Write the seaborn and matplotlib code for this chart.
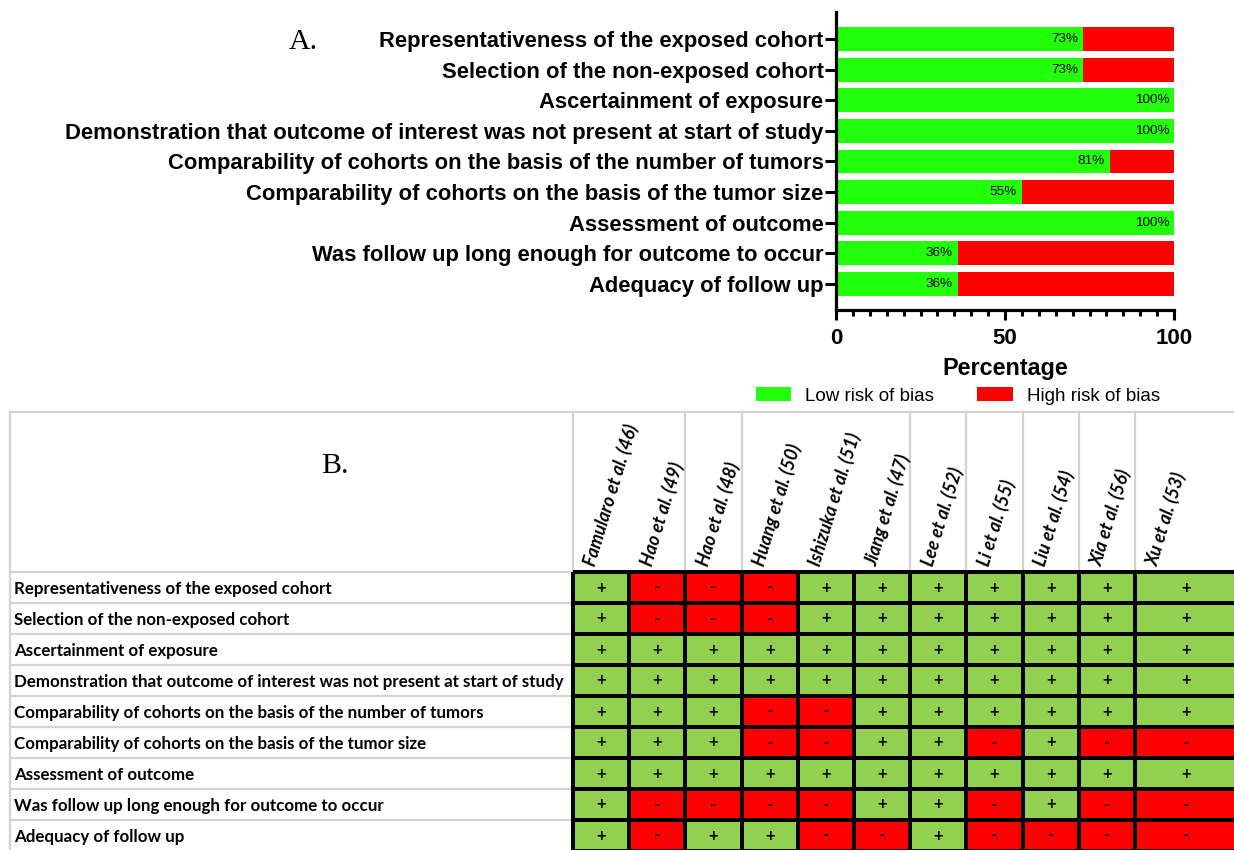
import numpy as np
import pandas as pd
import matplotlib
matplotlib.use("Agg")
import matplotlib.pyplot as plt
import matplotlib.transforms as mtransforms
from matplotlib.colors import ListedColormap
from matplotlib.ticker import MultipleLocator
import seaborn as sns

# ---------------------------------------------------------------- data
domains = [
    "Representativeness of the exposed cohort",
    "Selection of the non-exposed cohort",
    "Ascertainment of exposure",
    "Demonstration that outcome of interest was not present at start of study",
    "Comparability of cohorts on the basis of the number of tumors",
    "Comparability of cohorts on the basis of the tumor size",
    "Assessment of outcome",
    "Was follow up long enough for outcome to occur",
    "Adequacy of follow up",
]
low_risk_pct = [73, 73, 100, 100, 81, 55, 100, 36, 36]
high_risk_pct = [27, 27, 0, 0, 19, 45, 0, 64, 64]

studies = [
    "Famularo et al. (46)",
    "Hao et al. (49)",
    "Hao et al. (48)",
    "Huang et al. (50)",
    "Ishizuka et al. (51)",
    "Jiang et al. (47)",
    "Lee et al. (52)",
    "Li et al. (55)",
    "Liu et al. (54)",
    "Xia et al. (56)",
    "Xu et al. (53)",
]
# one string per domain, one character per study ("+" low risk, "-" high risk)
ratings = [
    "+---+++++++",
    "+---+++++++",
    "+++++++++++",
    "+++++++++++",
    "+++--++++++",
    "+++--++-+--",
    "+++++++++++",
    "+----++-+--",
    "+-++--+----",
]

GREEN_BAR = "#22FF0A"
RED = "#FF0000"
GREEN_CELL = "#92D050"
GRID_GRAY = "#D3D3D3"

# ---------------------------------------------------------------- style
sns.set_style("ticks")
plt.rcParams["font.family"] = ["Liberation Sans", "DejaVu Sans"]
for key in ("text.color", "axes.labelcolor", "xtick.color", "ytick.color",
            "axes.edgecolor"):
    plt.rcParams[key] = "black"

W, H = 1234, 850
fig = plt.figure(figsize=(W / 100, H / 100), dpi=100)


def fx(px):
    return px / W


def fy(py):
    return 1 - py / H


# ---------------------------------------------------------------- panel A
ax1 = fig.add_axes([fx(836), fy(310), fx(1174) - fx(836), (310 - 12) / H])
bars = pd.DataFrame({
    "domain": domains,
    "low": low_risk_pct,
    "total": [lo + hi for lo, hi in zip(low_risk_pct, high_risk_pct)],
})
sns.barplot(data=bars, x="total", y="domain", orient="h", color=RED,
            saturation=1, width=0.78, linewidth=0, ax=ax1,
            label="High risk of bias")
sns.barplot(data=bars, x="low", y="domain", orient="h", color=GREEN_BAR,
            saturation=1, width=0.78, linewidth=0, ax=ax1,
            label="Low risk of bias")

for i, v in enumerate(low_risk_pct):
    ax1.annotate(f"{v}%", xy=(v, i), xytext=(-3.5, 0),
                 textcoords="offset points", ha="right", va="center",
                 fontsize=9.7, color="black")

ax1.set_xlim(0, 100)
ax1.set_ylim(8.85, -0.88)
ax1.set_xticks([0, 50, 100])
ax1.xaxis.set_minor_locator(MultipleLocator(5))
ax1.tick_params(axis="x", which="major", length=7, width=2.2, pad=6,
                labelsize=16)
ax1.tick_params(axis="x", which="minor", length=4.5, width=2.2)
ax1.tick_params(axis="y", length=8, width=2.2, pad=1, labelsize=15.8)
for lab in ax1.get_xticklabels() + ax1.get_yticklabels():
    lab.set_fontweight("bold")
ax1.set_ylabel("")
ax1.set_xlabel("Percentage", fontsize=16.8, fontweight="bold", labelpad=6)
sns.despine(ax=ax1)
for side in ("left", "bottom"):
    ax1.spines[side].set_linewidth(2.3)

handles, labels = ax1.get_legend_handles_labels()
if ax1.get_legend() is not None:
    ax1.get_legend().remove()
order = [labels.index("Low risk of bias"), labels.index("High risk of bias")]
fig.legend([handles[k] for k in order], [labels[k] for k in order],
           loc="center", bbox_to_anchor=(fx(958), fy(396)), ncol=2,
           frameon=False, fontsize=13.5, handlelength=1.9,
           handleheight=0.75, handletextpad=0.75, columnspacing=2.3)

fig.text(fx(303), fy(42), "A.", family="Liberation Serif", fontsize=21.5,
         ha="center", va="center")

# ---------------------------------------------------------------- panel B
score = np.array([[1 if c == "+" else 0 for c in row] for row in ratings])
signs = np.array([list(row) for row in ratings])
cell_cmap = ListedColormap([RED, GREEN_CELL])
annot_style = {"fontsize": 12, "fontweight": "bold", "color": "black",
               "family": "Lato"}

table_top, table_bottom = 572, 851
col_px = 56.2
n_cols = len(studies)
split_px = 573 + (n_cols - 1) * col_px

# first ten studies in equal-width columns, the last study in a wider one
ax2 = fig.add_axes([fx(573), fy(table_bottom), fx(split_px) - fx(573),
                    (table_bottom - table_top) / H])
ax3 = fig.add_axes([fx(split_px), fy(table_bottom), fx(1238) - fx(split_px),
                    (table_bottom - table_top) / H])

for ax, cols in ((ax2, slice(0, n_cols - 1)), (ax3, slice(n_cols - 1, n_cols))):
    sns.heatmap(score[:, cols], annot=signs[:, cols], fmt="", cmap=cell_cmap,
                vmin=0, vmax=1, cbar=False, linewidths=1.6, linecolor="black",
                annot_kws=annot_style, xticklabels=studies[cols],
                yticklabels=False, ax=ax)
    ax.collections[0].set_clip_on(False)
    ax.xaxis.tick_top()
    n = len(studies[cols])
    offset = 0.3 if n > 1 else 0.3 * col_px / (1238 - split_px)
    ax.set_xticks(np.arange(n) + offset)
    ax.set_xticklabels(studies[cols], rotation=73, ha="left", va="center",
                       rotation_mode="anchor", fontsize=13,
                       fontweight="bold", fontstyle="italic", family="Lato")
    ax.tick_params(axis="x", length=0, pad=5)
    for side in ax.spines.values():
        side.set_visible(False)

# row labels, left aligned at the table's left margin
ax2.set_yticks(np.arange(len(domains)) + 0.5)
ax2.set_yticklabels(domains, rotation=0, ha="left", fontsize=12.2,
                    fontweight="bold", family="Lato")
ax2.tick_params(axis="y", length=0, pad=(573 - 14) * 0.72)

# light table ruling around the labels
row_trans = mtransforms.blended_transform_factory(fig.transFigure, ax2.transData)
ax2.hlines(np.arange(len(domains)), fx(10), fx(573), transform=row_trans,
           color=GRID_GRAY, lw=1.6, clip_on=False, zorder=0)
col_trans = mtransforms.blended_transform_factory(ax2.transData, fig.transFigure)
ax2.vlines([0, 2, 3, 6, 7, 8, 9, 10], fy(table_top), fy(412),
           transform=col_trans, color=GRID_GRAY, lw=1.6, clip_on=False,
           zorder=0)
fig.add_artist(plt.Line2D([fx(10), 1], [fy(412), fy(412)],
                          transform=fig.transFigure, color=GRID_GRAY, lw=1.6))
fig.add_artist(plt.Line2D([fx(10), fx(10)], [fy(412), 0],
                          transform=fig.transFigure, color=GRID_GRAY, lw=1.6))

fig.text(fx(335), fy(466), "B.", family="Liberation Serif", fontsize=21.5,
         ha="center", va="center")

fig.savefig("out.png", dpi=100)
